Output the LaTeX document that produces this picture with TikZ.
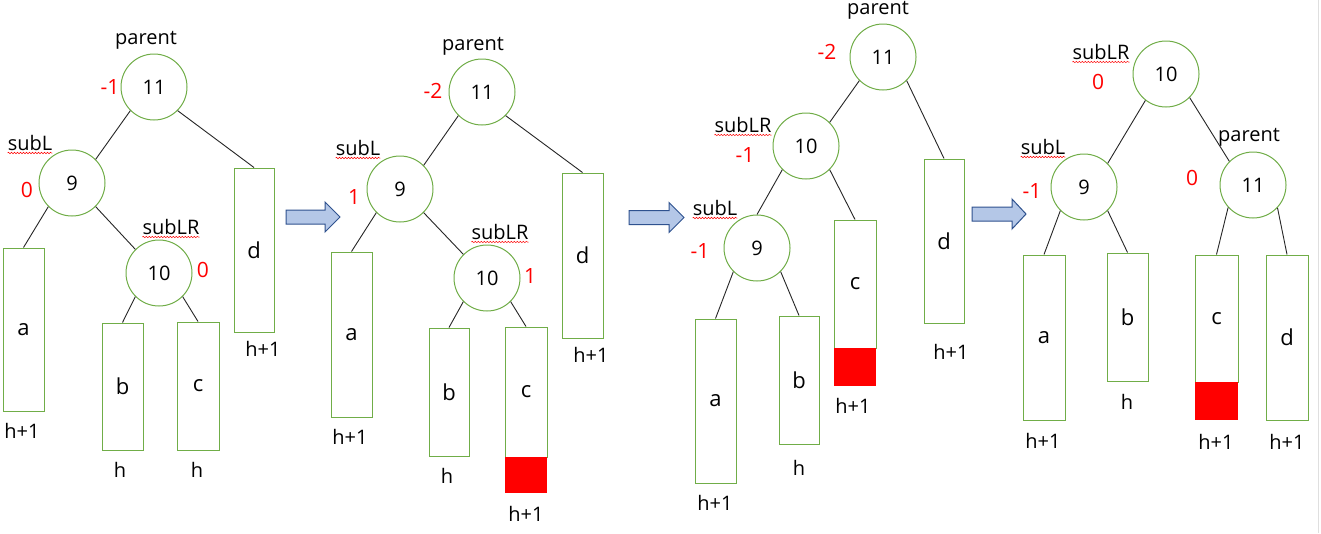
\documentclass[tikz,border=0pt]{standalone}
\usepackage{fontspec}
\setmainfont{Open Sans}
\usetikzlibrary{decorations.pathmorphing}
\definecolor{grn}{HTML}{70AD47}
\definecolor{arrfill}{HTML}{B4C7E7}
\definecolor{arrdraw}{HTML}{2F528F}
\definecolor{edgecol}{HTML}{262626}
\tikzset{
  cnode/.style={circle, draw=grn, fill=white, line width=1pt, minimum size=66pt, inner sep=0pt, font=\fontsize{20}{23}\selectfont},
  tb/.style={rectangle, draw=grn, fill=white, line width=1pt, inner sep=0pt, font=\fontsize{22}{26}\selectfont},
  redpart/.style={rectangle, fill=red, draw=none, inner sep=0pt},
  lbl/.style={inner sep=0pt, font=\fontsize{20}{23}\selectfont, text=black},
  bal/.style={inner sep=0pt, font=\fontsize{21}{24}\selectfont, text=red},
  edge/.style={draw=edgecol, line width=0.9pt},
  squig/.style={draw=red, line width=0.5pt, decorate, decoration={snake, amplitude=0.7pt, segment length=3pt}},
  blockarrow/.style={fill=arrfill, draw=arrdraw, line width=1pt, line join=miter}
}
\newcommand\tbox[6]{\node[tb, minimum width={#4-#2}, minimum height={#5-#3}] (#1) at ({(#2+#4)/2},{(#3+#5)/2}) {#6};}
\newcommand\rbox[5]{\node[redpart, minimum width={#4-#2}, minimum height={#5-#3}] (#1) at ({(#2+#4)/2},{(#3+#5)/2}) {};}
\newcommand\spl[1]{\draw[squig] ([yshift=-2.5pt]#1.base west) -- ([yshift=-2.5pt]#1.base east);}
\newcommand\barrow[5]{% name, x0, x1, x2, yc
  \coordinate (#1) at (#2,#5);
  \draw[blockarrow] (#2,#5-7) -- (#3,#5-7) -- (#3,#5-15) -- (#4,#5) -- (#3,#5+15) -- (#3,#5+7) -- (#2,#5+7) -- cycle;}
\begin{document}
\begin{tikzpicture}[x=1pt,y=-1pt]
\useasboundingbox[fill=white] (0,0) rectangle (1321,533);
\draw[gray!25, line width=1pt] (1318.5,0) -- (1318.5,533);

% ---------------- Tree 1 ----------------
\node[cnode] (A11) at (154,87) {11};
\node[cnode] (A9) at (72,183) {9};
\node[cnode] (A10) at (159,273) {10};
\tbox{Aa}{3}{248}{44}{411}{a}
\tbox{Ab}{102}{323}{143}{450}{b}
\tbox{Ac}{177}{322}{219}{450}{c}
\tbox{Ad}{234}{168}{274}{332}{d}
\node[lbl] (Apar) at (146,40) {parent};
\node[bal] (Ab11) at (110,87) {-1};
\node[lbl] (AsubL) at (30,143) {subL}; \spl{AsubL}
\node[bal] (Ab9) at (27,190) {0};
\node[lbl] (AsubLR) at (171,227) {subLR}; \spl{AsubLR}
\node[bal] (Ab10) at (203,270) {0};
\node[lbl] (Aha) at (22,431) {h+1};
\node[lbl] (Ahb) at (120,470) {h};
\node[lbl] (Ahc) at (197,470) {h};
\node[lbl] (Ahd) at (263,349) {h+1};
\draw[edge] (A11.225) -- (A9.45);
\draw[edge] (A11.315) -- (Ad.north);
\draw[edge] (A9.225) -- (Aa.north);
\draw[edge] (A9.315) -- (A10.135);
\draw[edge] (A10.225) -- (Ab.north);
\draw[edge] (A10.315) -- (Ac.north);

\barrow{arr1}{286}{325}{340}{217}

% ---------------- Tree 2 ----------------
\node[cnode] (B11) at (482,92) {11};
\node[cnode] (B9) at (400,189) {9};
\node[cnode] (B10) at (487,278) {10};
\tbox{Ba}{331}{252}{372}{417}{a}
\tbox{Bb}{429}{328}{469}{456}{b}
\tbox{Bc}{505}{327}{547}{457}{c}
\rbox{Bcr}{505}{457}{547}{493}
\tbox{Bd}{562}{173}{603}{338}{d}
\node[lbl] (Bpar) at (473,46) {parent};
\node[bal] (Bb11) at (433,91) {-2};
\node[lbl] (BsubL) at (358,148) {subL}; \spl{BsubL}
\node[bal] (Bb9) at (354,197) {1};
\node[lbl] (BsubLR) at (500,232) {subLR}; \spl{BsubLR}
\node[bal] (Bb10) at (530,276) {1};
\node[lbl] (Bha) at (350,437) {h+1};
\node[lbl] (Bhb) at (447,476) {h};
\node[lbl] (Bhc) at (526,514) {h+1};
\node[lbl] (Bhd) at (591,355) {h+1};
\draw[edge] (B11.225) -- (B9.45);
\draw[edge] (B11.315) -- (Bd.north);
\draw[edge] (B9.225) -- (Ba.north);
\draw[edge] (B9.315) -- (B10.135);
\draw[edge] (B10.225) -- (Bb.north);
\draw[edge] (B10.315) -- (Bc.north);

\barrow{arr2}{629}{669}{684}{217.5}

% ---------------- Tree 3 ----------------
\node[cnode] (C11) at (883,57) {11};
\node[cnode] (C10) at (806,146) {10};
\node[cnode] (C9) at (757,248) {9};
\tbox{Ca}{695}{319}{736}{483}{a}
\tbox{Cb}{779}{316}{819}{444}{b}
\tbox{Cc}{834}{220}{876}{348}{c}
\rbox{Ccr}{834}{348}{876}{386}
\tbox{Cd}{924}{159}{964}{323}{d}
\node[lbl] (Cpar) at (878,10) {parent};
\node[bal] (Cb11) at (827,52) {-2};
\node[lbl] (CsubLR) at (743,125) {subLR}; \spl{CsubLR}
\node[bal] (Cb10) at (745,155) {-1};
\node[lbl] (CsubL) at (715,208) {subL}; \spl{CsubL}
\node[bal] (Cb9) at (700,251) {-1};
\node[lbl] (Cha) at (715,503) {h+1};
\node[lbl] (Chb) at (799,468) {h};
\node[lbl] (Chc) at (853,406) {h+1};
\node[lbl] (Chd) at (951,352) {h+1};
\draw[edge] (C11.225) -- (C10.45);
\draw[edge] (C11.315) -- (Cd.north);
\draw[edge] (C10.225) -- (C9.north);
\draw[edge] (C10.315) -- (Cc.north);
\draw[edge] (C9.225) -- (Ca.north);
\draw[edge] (C9.315) -- (Cb.north);

\barrow{arr3}{972}{1012}{1026}{214}

% ---------------- Tree 4 ----------------
\node[cnode] (D10) at (1166,74) {10};
\node[cnode] (D9) at (1084,187) {9};
\node[cnode] (D11) at (1253,185) {11};
\tbox{Da}{1023}{255}{1065}{420}{a}
\tbox{Db}{1107}{253}{1148}{381}{b}
\tbox{Dc}{1195}{255}{1238}{382}{c}
\rbox{Dcr}{1195}{382}{1238}{420}
\tbox{Dd}{1266}{255}{1308}{420}{d}
\node[lbl] (DsubLR) at (1101,52) {subLR}; \spl{DsubLR}
\node[bal] (Db10) at (1098,82) {0};
\node[lbl] (DsubL) at (1043,147) {subL}; \spl{DsubL}
\node[bal] (Db9) at (1032,191) {-1};
\node[lbl] (Dpar) at (1249,137) {parent};
\node[bal] (Db11) at (1192,178) {0};
\node[lbl] (Dha) at (1043,441) {h+1};
\node[lbl] (Dhb) at (1127,402) {h};
\node[lbl] (Dhc) at (1216,442) {h+1};
\node[lbl] (Dhd) at (1287,442) {h+1};
\draw[edge] (D10.232) -- (D9.45);
\draw[edge] (D10.315) -- (D11.135);
\draw[edge] (D9.225) -- (Da.north);
\draw[edge] (D9.315) -- (Db.north);
\draw[edge] (D11.222) -- (Dc.north);
\draw[edge] (D11.317) -- (Dd.north);
\end{tikzpicture}
\end{document}
